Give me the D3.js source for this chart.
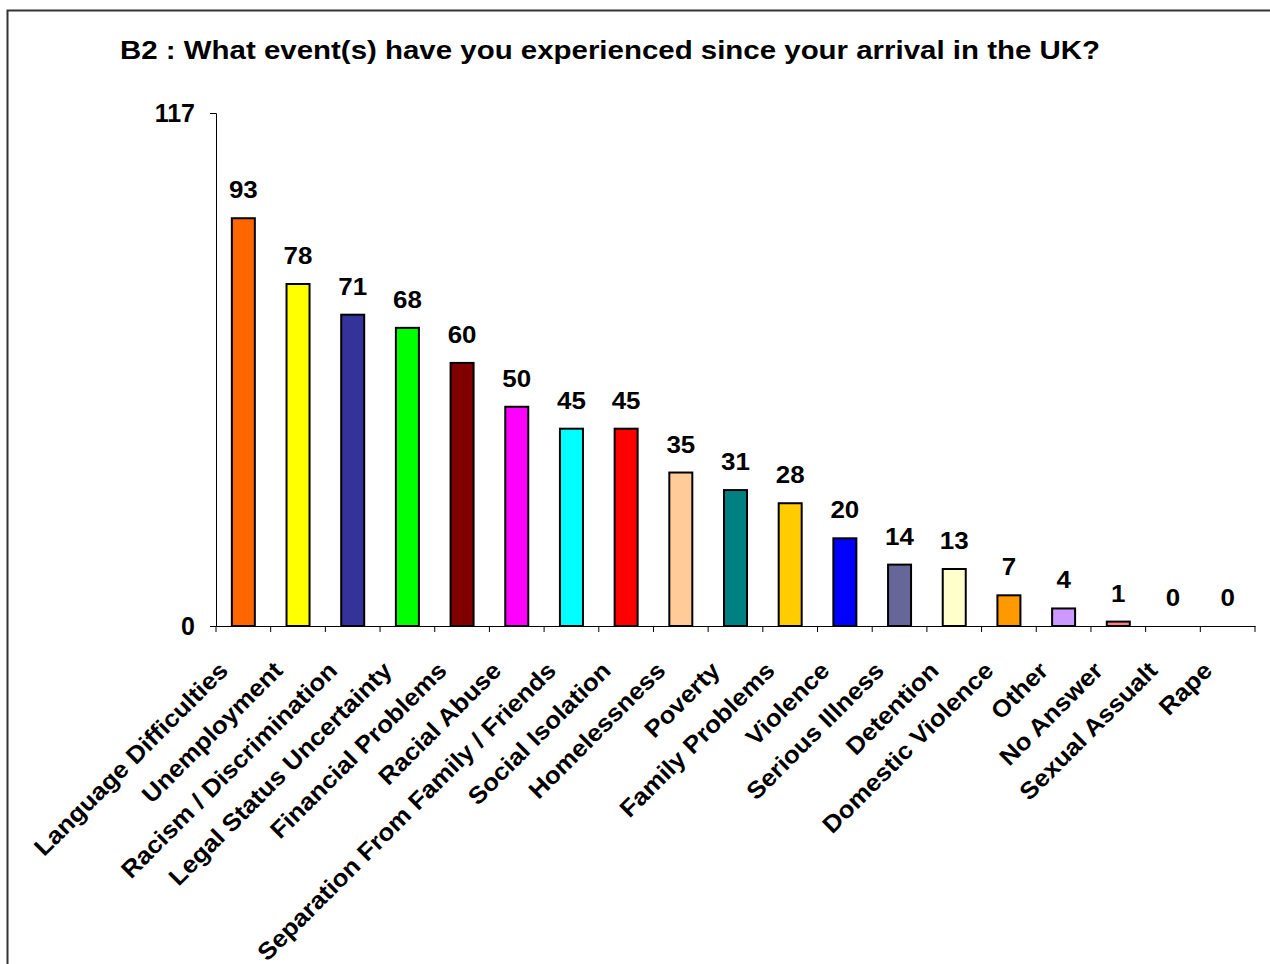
<!DOCTYPE html>
<html>
<head>
<meta charset="utf-8">
<script src="https://cdn.jsdelivr.net/npm/d3@7"></script>
<style>
  html, body { margin: 0; padding: 0; background: #fff; }
  svg { display: block; font-family: Arial, "Liberation Sans", sans-serif; }
</style>
</head>
<body>
<svg id="chart" width="1270" height="964"></svg>
<script>
// Survey question B2: events experienced since arrival in the UK
const categories = [
  "Language Difficulties", "Unemployment", "Racism / Discrimination",
  "Legal Status Uncertainty", "Financial Problems", "Racial Abuse",
  "Separation From Family / Friends", "Social Isolation", "Homelessness",
  "Poverty", "Family Problems", "Violence", "Serious Illness", "Detention",
  "Domestic Violence", "Other", "No Answer", "Sexual Assualt", "Rape"
];
const counts = [93, 78, 71, 68, 60, 50, 45, 45, 35, 31, 28, 20, 14, 13, 7, 4, 1, 0, 0];
const barColors = [
  "#FF6600", "#FFFF00", "#333399", "#00FF00", "#800000", "#FF00FF",
  "#00FFFF", "#FF0000", "#FFCC99", "#008080", "#FFCC00", "#0000FF",
  "#666699", "#FFFFCC", "#FF9900", "#CC99FF", "#FF8080", "#FFFFFF", "#FFFFFF"
];
const yTicks = [0, 117];
const title = "B2 : What event(s) have you experienced since your arrival in the UK?";

const svg = d3.select("#chart");
const FONT = "Arial, 'Liberation Sans', sans-serif";

// widen glyph runs slightly, as the chart's bold face is set loosely
function widen(sel, factor) {
  sel.each(function () {
    const w = this.getComputedTextLength();
    d3.select(this).attr("textLength", w * factor).attr("lengthAdjust", "spacingAndGlyphs");
  });
}

// outer frame
svg.append("rect")
  .attr("x", 7.5).attr("y", 10.5)
  .attr("width", 1300).attr("height", 1000)
  .attr("fill", "none").attr("stroke", "#333").attr("stroke-width", 2);

svg.append("text")
  .attr("x", 120).attr("y", 59)
  .attr("font-size", 25).attr("font-weight", "bold")
  .attr("fill", "#000")
  .attr("textLength", 980).attr("lengthAdjust", "spacingAndGlyphs")
  .text(title);

const plot = { left: 216, right: 1255, top: 113, bottom: 626 };

const x = d3.scaleBand()
  .domain(categories)
  .range([plot.left, plot.right])
  .paddingInner(0).paddingOuter(0);

const y = d3.scaleLinear()
  .domain([0, 117])
  .range([plot.bottom, plot.top]);

const barW = 23;

// y axis
const yAxis = svg.append("g")
  .attr("transform", `translate(${plot.left},0)`)
  .call(d3.axisLeft(y).tickValues(yTicks).tickSize(6).tickPadding(15).tickFormat(d3.format("d")));
yAxis.select(".domain").attr("stroke", "#000");
yAxis.selectAll(".tick line").attr("stroke", "#000");
yAxis.selectAll("text")
  .attr("font-size", 25).attr("font-weight", "bold")
  .attr("font-family", FONT)
  .attr("fill", "#000");

// bars
svg.append("g").selectAll("rect")
  .data(categories)
  .join("rect")
  .attr("x", d => x(d) + x.bandwidth() / 2 - barW / 2)
  .attr("y", (d, i) => y(counts[i]))
  .attr("width", barW)
  .attr("height", (d, i) => y(0) - y(counts[i]))
  .attr("fill", (d, i) => barColors[i])
  .attr("stroke", "#000")
  .attr("stroke-width", 2)
  .style("display", (d, i) => counts[i] === 0 ? "none" : null);

// x axis
const xAxis = svg.append("g")
  .attr("transform", `translate(0,${plot.bottom})`)
  .call(d3.axisBottom(x).tickSize(0).tickFormat(""));
xAxis.select(".domain").attr("stroke", "#000");
xAxis.selectAll(".tick").remove();

// category separators on x axis
svg.append("g").selectAll("line")
  .data(d3.range(categories.length + 1))
  .join("line")
  .attr("x1", i => plot.left + i * x.step())
  .attr("x2", i => plot.left + i * x.step())
  .attr("y1", plot.bottom)
  .attr("y2", plot.bottom + 6)
  .attr("stroke", "#000");

// value labels
const values = svg.append("g").selectAll("text")
  .data(categories)
  .join("text")
  .attr("x", d => x(d) + x.bandwidth() / 2)
  .attr("y", (d, i) => y(counts[i]) - 20)
  .attr("text-anchor", "middle")
  .attr("font-size", 24).attr("font-weight", "bold")
  .attr("fill", "#000")
  .text((d, i) => counts[i]);
widen(values, 1.08);

// rotated category labels
const labels = svg.append("g").selectAll("text")
  .data(categories)
  .join("text")
  .attr("transform", d => `translate(${x(d) + x.bandwidth() / 2 - 14},${plot.bottom + 46}) rotate(-45)`)
  .attr("text-anchor", "end")
  .attr("font-size", 24).attr("font-weight", "bold")
  .attr("fill", "#000")
  .text(d => d);
widen(labels, 1.08);
</script>
</body>
</html>
